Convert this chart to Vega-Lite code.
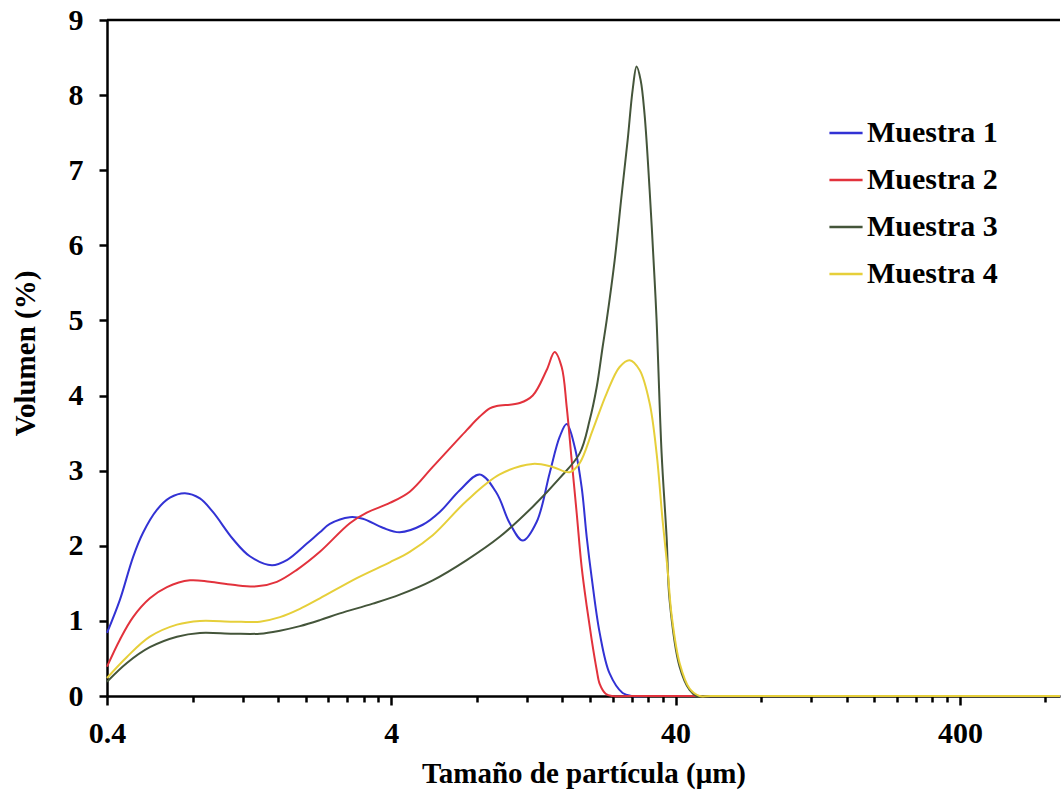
{
  "$schema": "https://vega.github.io/schema/vega-lite/v6.json",
  "width": 953,
  "height": 676,
  "autosize": {"type": "none"},
  "padding": {"left": 107, "top": 20, "right": 1, "bottom": 99},
  "background": "white",
  "config": {"view": {"stroke": null}},
  "datasets": {
    "curvas": [
      {"t": 0.4, "v": 0.84, "m": "Muestra 1"},
      {"t": 0.444, "v": 1.28, "m": "Muestra 1"},
      {"t": 0.494, "v": 1.85, "m": "Muestra 1"},
      {"t": 0.535, "v": 2.17, "m": "Muestra 1"},
      {"t": 0.6, "v": 2.48, "m": "Muestra 1"},
      {"t": 0.666, "v": 2.64, "m": "Muestra 1"},
      {"t": 0.752, "v": 2.7, "m": "Muestra 1"},
      {"t": 0.849, "v": 2.63, "m": "Muestra 1"},
      {"t": 0.943, "v": 2.45, "m": "Muestra 1"},
      {"t": 1.109, "v": 2.09, "m": "Muestra 1"},
      {"t": 1.272, "v": 1.86, "m": "Muestra 1"},
      {"t": 1.521, "v": 1.74, "m": "Muestra 1"},
      {"t": 1.717, "v": 1.81, "m": "Muestra 1"},
      {"t": 2.019, "v": 2.03, "m": "Muestra 1"},
      {"t": 2.243, "v": 2.18, "m": "Muestra 1"},
      {"t": 2.432, "v": 2.29, "m": "Muestra 1"},
      {"t": 2.859, "v": 2.38, "m": "Muestra 1"},
      {"t": 3.176, "v": 2.36, "m": "Muestra 1"},
      {"t": 3.734, "v": 2.24, "m": "Muestra 1"},
      {"t": 4.284, "v": 2.18, "m": "Muestra 1"},
      {"t": 5.16, "v": 2.28, "m": "Muestra 1"},
      {"t": 5.923, "v": 2.45, "m": "Muestra 1"},
      {"t": 6.964, "v": 2.74, "m": "Muestra 1"},
      {"t": 8.188, "v": 2.95, "m": "Muestra 1"},
      {"t": 9.396, "v": 2.7, "m": "Muestra 1"},
      {"t": 10.44, "v": 2.3, "m": "Muestra 1"},
      {"t": 11.6, "v": 2.07, "m": "Muestra 1"},
      {"t": 12.99, "v": 2.32, "m": "Muestra 1"},
      {"t": 14.43, "v": 2.97, "m": "Muestra 1"},
      {"t": 15.64, "v": 3.45, "m": "Muestra 1"},
      {"t": 16.56, "v": 3.62, "m": "Muestra 1"},
      {"t": 17.66, "v": 3.32, "m": "Muestra 1"},
      {"t": 18.69, "v": 2.78, "m": "Muestra 1"},
      {"t": 19.47, "v": 2.12, "m": "Muestra 1"},
      {"t": 20.27, "v": 1.58, "m": "Muestra 1"},
      {"t": 21.63, "v": 0.84, "m": "Muestra 1"},
      {"t": 23.44, "v": 0.3, "m": "Muestra 1"},
      {"t": 26.05, "v": 0.04, "m": "Muestra 1"},
      {"t": 28, "v": 0, "m": "Muestra 1"},
      {"t": 32, "v": 0, "m": "Muestra 1"},
      {"t": 900, "v": 0, "m": "Muestra 1"},

      {"t": 0.4, "v": 0.39, "m": "Muestra 2"},
      {"t": 0.444, "v": 0.75, "m": "Muestra 2"},
      {"t": 0.494, "v": 1.05, "m": "Muestra 2"},
      {"t": 0.566, "v": 1.3, "m": "Muestra 2"},
      {"t": 0.65, "v": 1.45, "m": "Muestra 2"},
      {"t": 0.783, "v": 1.54, "m": "Muestra 2"},
      {"t": 0.92, "v": 1.52, "m": "Muestra 2"},
      {"t": 1.109, "v": 1.48, "m": "Muestra 2"},
      {"t": 1.347, "v": 1.46, "m": "Muestra 2"},
      {"t": 1.583, "v": 1.52, "m": "Muestra 2"},
      {"t": 1.862, "v": 1.68, "m": "Muestra 2"},
      {"t": 2.243, "v": 1.92, "m": "Muestra 2"},
      {"t": 2.859, "v": 2.3, "m": "Muestra 2"},
      {"t": 3.28, "v": 2.44, "m": "Muestra 2"},
      {"t": 3.952, "v": 2.57, "m": "Muestra 2"},
      {"t": 4.645, "v": 2.72, "m": "Muestra 2"},
      {"t": 5.596, "v": 3.05, "m": "Muestra 2"},
      {"t": 7.369, "v": 3.54, "m": "Muestra 2"},
      {"t": 8.188, "v": 3.72, "m": "Muestra 2"},
      {"t": 8.879, "v": 3.83, "m": "Muestra 2"},
      {"t": 9.396, "v": 3.86, "m": "Muestra 2"},
      {"t": 11.32, "v": 3.9, "m": "Muestra 2"},
      {"t": 12.58, "v": 4.0, "m": "Muestra 2"},
      {"t": 14.08, "v": 4.34, "m": "Muestra 2"},
      {"t": 15.02, "v": 4.58, "m": "Muestra 2"},
      {"t": 15.9, "v": 4.38, "m": "Muestra 2"},
      {"t": 16.56, "v": 3.85, "m": "Muestra 2"},
      {"t": 17.24, "v": 3.14, "m": "Muestra 2"},
      {"t": 17.95, "v": 2.44, "m": "Muestra 2"},
      {"t": 18.69, "v": 1.72, "m": "Muestra 2"},
      {"t": 19.47, "v": 1.2, "m": "Muestra 2"},
      {"t": 20.27, "v": 0.75, "m": "Muestra 2"},
      {"t": 21.11, "v": 0.35, "m": "Muestra 2"},
      {"t": 21.63, "v": 0.16, "m": "Muestra 2"},
      {"t": 22.7, "v": 0.03, "m": "Muestra 2"},
      {"t": 24, "v": 0, "m": "Muestra 2"},
      {"t": 28, "v": 0, "m": "Muestra 2"},
      {"t": 900, "v": 0, "m": "Muestra 2"},

      {"t": 0.4, "v": 0.19, "m": "Muestra 3"},
      {"t": 0.47, "v": 0.44, "m": "Muestra 3"},
      {"t": 0.566, "v": 0.65, "m": "Muestra 3"},
      {"t": 0.705, "v": 0.79, "m": "Muestra 3"},
      {"t": 0.849, "v": 0.84, "m": "Muestra 3"},
      {"t": 1.109, "v": 0.83, "m": "Muestra 3"},
      {"t": 1.38, "v": 0.83, "m": "Muestra 3"},
      {"t": 1.623, "v": 0.87, "m": "Muestra 3"},
      {"t": 1.908, "v": 0.93, "m": "Muestra 3"},
      {"t": 2.243, "v": 1.01, "m": "Muestra 3"},
      {"t": 2.637, "v": 1.1, "m": "Muestra 3"},
      {"t": 3.444, "v": 1.23, "m": "Muestra 3"},
      {"t": 4.284, "v": 1.35, "m": "Muestra 3"},
      {"t": 5.596, "v": 1.54, "m": "Muestra 3"},
      {"t": 7.369, "v": 1.81, "m": "Muestra 3"},
      {"t": 9.628, "v": 2.12, "m": "Muestra 3"},
      {"t": 12.58, "v": 2.52, "m": "Muestra 3"},
      {"t": 15.64, "v": 2.9, "m": "Muestra 3"},
      {"t": 18.39, "v": 3.23, "m": "Muestra 3"},
      {"t": 19.94, "v": 3.67, "m": "Muestra 3"},
      {"t": 21.11, "v": 4.11, "m": "Muestra 3"},
      {"t": 22.16, "v": 4.65, "m": "Muestra 3"},
      {"t": 22.89, "v": 5.0, "m": "Muestra 3"},
      {"t": 24.42, "v": 5.8, "m": "Muestra 3"},
      {"t": 25.84, "v": 6.67, "m": "Muestra 3"},
      {"t": 27.13, "v": 7.4, "m": "Muestra 3"},
      {"t": 28.25, "v": 8.07, "m": "Muestra 3"},
      {"t": 29.17, "v": 8.38, "m": "Muestra 3"},
      {"t": 30.14, "v": 8.2, "m": "Muestra 3"},
      {"t": 31.12, "v": 7.74, "m": "Muestra 3"},
      {"t": 32.41, "v": 6.74, "m": "Muestra 3"},
      {"t": 33.75, "v": 5.54, "m": "Muestra 3"},
      {"t": 34.3, "v": 5.0, "m": "Muestra 3"},
      {"t": 35.72, "v": 3.23, "m": "Muestra 3"},
      {"t": 37.19, "v": 2.12, "m": "Muestra 3"},
      {"t": 38.1, "v": 1.28, "m": "Muestra 3"},
      {"t": 41.32, "v": 0.39, "m": "Muestra 3"},
      {"t": 44.8, "v": 0.08, "m": "Muestra 3"},
      {"t": 47.41, "v": 0, "m": "Muestra 3"},
      {"t": 52, "v": 0, "m": "Muestra 3"},
      {"t": 900, "v": 0, "m": "Muestra 3"},

      {"t": 0.4, "v": 0.24, "m": "Muestra 4"},
      {"t": 0.47, "v": 0.52, "m": "Muestra 4"},
      {"t": 0.566, "v": 0.79, "m": "Muestra 4"},
      {"t": 0.705, "v": 0.95, "m": "Muestra 4"},
      {"t": 0.849, "v": 1.0, "m": "Muestra 4"},
      {"t": 1.109, "v": 0.99, "m": "Muestra 4"},
      {"t": 1.38, "v": 0.99, "m": "Muestra 4"},
      {"t": 1.623, "v": 1.05, "m": "Muestra 4"},
      {"t": 1.908, "v": 1.16, "m": "Muestra 4"},
      {"t": 2.243, "v": 1.3, "m": "Muestra 4"},
      {"t": 3.025, "v": 1.57, "m": "Muestra 4"},
      {"t": 3.952, "v": 1.78, "m": "Muestra 4"},
      {"t": 4.645, "v": 1.92, "m": "Muestra 4"},
      {"t": 5.596, "v": 2.14, "m": "Muestra 4"},
      {"t": 7.369, "v": 2.6, "m": "Muestra 4"},
      {"t": 9.628, "v": 2.95, "m": "Muestra 4"},
      {"t": 12.58, "v": 3.09, "m": "Muestra 4"},
      {"t": 14.78, "v": 3.05, "m": "Muestra 4"},
      {"t": 16.96, "v": 2.98, "m": "Muestra 4"},
      {"t": 18.39, "v": 3.1, "m": "Muestra 4"},
      {"t": 20.44, "v": 3.54, "m": "Muestra 4"},
      {"t": 22.89, "v": 4.03, "m": "Muestra 4"},
      {"t": 25.42, "v": 4.38, "m": "Muestra 4"},
      {"t": 27.56, "v": 4.47, "m": "Muestra 4"},
      {"t": 29.89, "v": 4.34, "m": "Muestra 4"},
      {"t": 32.41, "v": 3.9, "m": "Muestra 4"},
      {"t": 34.3, "v": 3.23, "m": "Muestra 4"},
      {"t": 36.0, "v": 2.34, "m": "Muestra 4"},
      {"t": 37.5, "v": 1.68, "m": "Muestra 4"},
      {"t": 38.73, "v": 1.08, "m": "Muestra 4"},
      {"t": 41.32, "v": 0.44, "m": "Muestra 4"},
      {"t": 44.8, "v": 0.1, "m": "Muestra 4"},
      {"t": 48.59, "v": 0, "m": "Muestra 4"},
      {"t": 53, "v": 0, "m": "Muestra 4"},
      {"t": 900, "v": 0, "m": "Muestra 4"}
    ]
  },
  "layer": [
    {
      "data": {"name": "curvas"},
      "mark": {"type": "line", "interpolate": "catmull-rom", "strokeWidth": 2},
      "encoding": {
        "x": {
          "field": "t",
          "type": "quantitative",
          "scale": {"type": "log", "domain": [0.4, 900], "nice": false},
          "axis": {
            "title": "Tamaño de partícula (μm)",
            "values": [0.4, 0.8, 1.2, 1.6, 2, 2.4, 2.8, 3.2, 3.6, 4, 8, 12, 16, 20, 24, 28, 32, 36, 40, 80, 120, 160, 200, 240, 280, 320, 360, 400, 800],
            "labelExpr": "indexof([0.4, 4, 40, 400], datum.value) >= 0 ? '' + datum.value : ''",
            "tickSize": {"condition": {"test": "indexof([0.4, 4, 40, 400], datum.value) >= 0", "value": 9}, "value": 6},
            "tickWidth": 2.5,
            "tickColor": "black",
            "domainColor": "black",
            "domainWidth": 2.5,
            "grid": false,
            "labelFlush": false,
            "labelOverlap": false,
            "labelFont": "Liberation Serif",
            "labelFontSize": 30,
            "labelFontWeight": "bold",
            "labelColor": "black",
            "labelPadding": 13,
            "titleFont": "Liberation Serif",
            "titleFontSize": 29,
            "titleFontWeight": "bold",
            "titleColor": "black",
            "titleBaseline": "alphabetic",
            "titleY": 86
          }
        },
        "y": {
          "field": "v",
          "type": "quantitative",
          "scale": {"domain": [0, 9], "nice": false},
          "axis": {
            "title": "Volumen (%)",
            "values": [0, 1, 2, 3, 4, 5, 6, 7, 8, 9],
            "format": "d",
            "tickSize": 8,
            "tickWidth": 2.5,
            "tickColor": "black",
            "domainColor": "black",
            "domainWidth": 2.5,
            "grid": false,
            "labelFlush": false,
            "labelFont": "Liberation Serif",
            "labelFontSize": 30,
            "labelFontWeight": "bold",
            "labelColor": "black",
            "labelPadding": 16,
            "titleFont": "Liberation Serif",
            "titleFontSize": 29,
            "titleFontWeight": "bold",
            "titleColor": "black",
            "titleX": -67,
            "titleY": 333
          }
        },
        "color": {
          "field": "m",
          "type": "nominal",
          "scale": {"domain": ["Muestra 1", "Muestra 2", "Muestra 3", "Muestra 4"], "range": ["#3232d4", "#e2323c", "#44553a", "#e6cf3a"]},
          "legend": {
            "orient": "none",
            "legendX": 721,
            "legendY": 95,
            "title": null,
            "symbolType": "stroke",
            "symbolSize": 1100,
            "symbolStrokeWidth": 2.5,
            "labelFont": "Liberation Serif",
            "labelFontSize": 30,
            "labelFontWeight": "bold",
            "labelColor": "black",
            "labelOffset": 3,
            "rowPadding": 14
          }
        }
      }
    },
    {
      "data": {"values": [{}]},
      "mark": {"type": "rule", "color": "black", "strokeWidth": 2.5},
      "encoding": {"y": {"datum": 9}}
    }
  ]
}
